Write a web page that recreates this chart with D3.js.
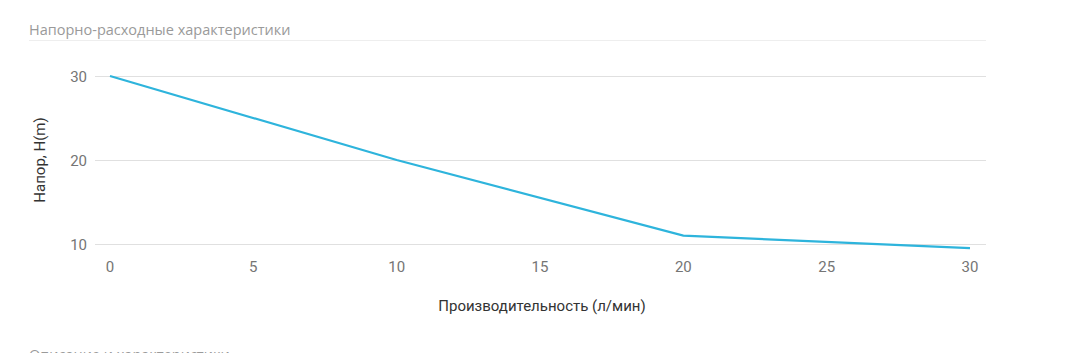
<!DOCTYPE html>
<html>
<head>
<meta charset="utf-8">
<script src="https://cdn.jsdelivr.net/npm/d3@7"></script>
<style>
  body { margin: 0; background: #fff; }
</style>
</head>
<body>
<svg width="1092" height="353"></svg>
<script>
// данные кривой насоса
const flow = [0, 10, 20, 30];
const head = [30, 20, 11, 9.5];
const xTicks = [0, 5, 10, 15, 20, 25, 30];
const yTicks = [10, 20, 30];

const svg = d3.select('svg');

const x = d3.scaleLinear().domain([0, 30]).range([110, 970]);
const y = d3.scaleLinear().domain([10, 30]).range([244, 76]);

// ---- Заголовок
svg.append('text')
  .attr('x', 29)
  .attr('y', 35)
  .style('font-family', '"Open Sans", sans-serif')
  .style('font-size', '14.5px')
  .attr('fill', '#9a9a9a')
  .text('Напорно-расходные характеристики');

svg.append('line')
  .attr('x1', 29).attr('x2', 986)
  .attr('y1', 40.5).attr('y2', 40.5)
  .attr('stroke', '#eeeeee');

// ---- Сетка
svg.append('g')
  .selectAll('line')
  .data(yTicks)
  .enter()
  .append('line')
  .attr('x1', 95).attr('x2', 986)
  .attr('y1', d => y(d) + 0.5).attr('y2', d => y(d) + 0.5)
  .attr('stroke', '#e0e0e0');

// ---- Подписи осей
svg.append('g')
  .selectAll('text')
  .data(yTicks)
  .enter()
  .append('text')
  .attr('x', 87)
  .attr('y', d => y(d) + 6)
  .attr('text-anchor', 'end')
  .style('font-family', 'Roboto, sans-serif')
  .style('font-size', '15px')
  .attr('fill', '#757575')
  .text(d => d);

svg.append('g')
  .selectAll('text')
  .data(xTicks)
  .enter()
  .append('text')
  .attr('x', d => x(d))
  .attr('y', 272)
  .attr('text-anchor', 'middle')
  .style('font-family', 'Roboto, sans-serif')
  .style('font-size', '15px')
  .attr('fill', '#757575')
  .text(d => d);

svg.append('text')
  .attr('transform', 'rotate(-90)')
  .attr('x', -160)
  .attr('y', 45)
  .attr('text-anchor', 'middle')
  .style('font-family', 'Roboto, sans-serif')
  .style('font-size', '15px')
  .attr('fill', '#333')
  .text('Напор, H(m)');

svg.append('text')
  .attr('x', 542)
  .attr('y', 311)
  .attr('text-anchor', 'middle')
  .style('font-family', 'Roboto, sans-serif')
  .style('font-size', '15px')
  .attr('fill', '#333')
  .text('Производительность (л/мин)');

// ---- Линия
const points = flow.map((f, i) => ({ f, h: head[i] }));
svg.append('path')
  .datum(points)
  .attr('d', d3.line().x(d => x(d.f)).y(d => y(d.h)))
  .attr('fill', 'none')
  .attr('stroke', '#2eb4dc')
  .attr('stroke-width', 2.2);

// ---- Следующий раздел (обрезан)
svg.append('text')
  .attr('x', 29)
  .attr('y', 360)
  .style('font-family', '"Open Sans", sans-serif')
  .style('font-size', '14.5px')
  .attr('fill', '#9a9a9a')
  .text('Описание и характеристики');
</script>
</body>
</html>
